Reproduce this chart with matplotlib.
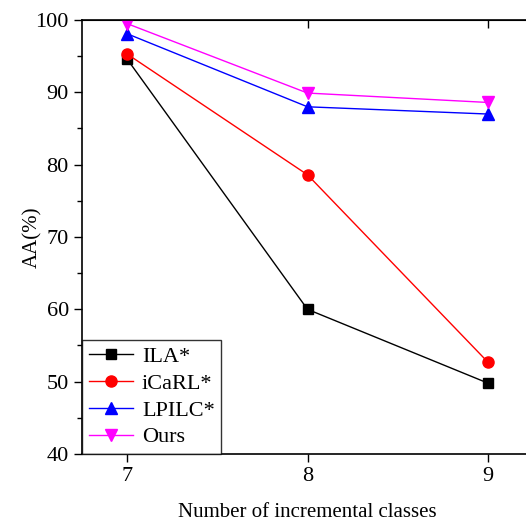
import matplotlib.pyplot as plt
import numpy as np

plt.rcParams['font.family'] = ['Liberation Serif', 'DejaVu Serif']
plt.rcParams['mathtext.fontset'] = 'stix'

classes = [7, 8, 9]
ila = [94.6, 60.0, 49.8]
icarl = [95.3, 78.6, 52.7]
lpilc = [98.1, 88.0, 87.0]
ours = [99.5, 89.9, 88.6]

fig = plt.figure(figsize=(5.26, 5.23), dpi=100)
ax = fig.add_axes([82 / 526, 1 - 454 / 523, (533 - 82) / 526, (454 - 20) / 523])

ax.plot(classes, ila, color='black', marker='s', ms=7, lw=1, label='ILA*')
ax.plot(classes, icarl, color='red', marker='o', ms=8, lw=1, label='iCaRL*')
ax.plot(classes, lpilc, color='blue', marker='^', ms=8, lw=1, label='LPILC*')
ax.plot(classes, ours, color='magenta', marker='v', ms=8, lw=1, label='Ours')

ax.set_xlim(6.75, 9.25)
ax.set_ylim(40, 100)
ax.set_xticks(classes)
ax.set_yticks(np.arange(40, 101, 10))
ax.set_yticks(np.arange(45, 100, 10), minor=True)
ax.tick_params(axis='both', which='major', direction='out', length=6, width=1, labelsize=16)
ax.tick_params(axis='y', which='minor', direction='out', length=3.5, width=1)
ax.tick_params(axis='x', top=False)
for s in ax.spines.values():
    s.set_linewidth(1.2)

top = ax.secondary_xaxis('top')
top.set_xticks(classes)
top.tick_params(direction='in', length=6, width=1, labelsize=0)
top.set_xticklabels([])

ax.set_xlabel('Number of incremental classes', fontsize=15, labelpad=12)
ax.set_ylabel('AA(%)', fontsize=15)
ax.yaxis.set_label_coords(-0.087, 0.5)

leg = ax.legend(loc='lower left', fontsize=16, frameon=True, fancybox=False,
                edgecolor='black', borderaxespad=0, handlelength=2.0,
                borderpad=0.3, labelspacing=0.28, handletextpad=0.4)
leg.get_frame().set_linewidth(1)

fig.savefig('out.png', dpi=100)
